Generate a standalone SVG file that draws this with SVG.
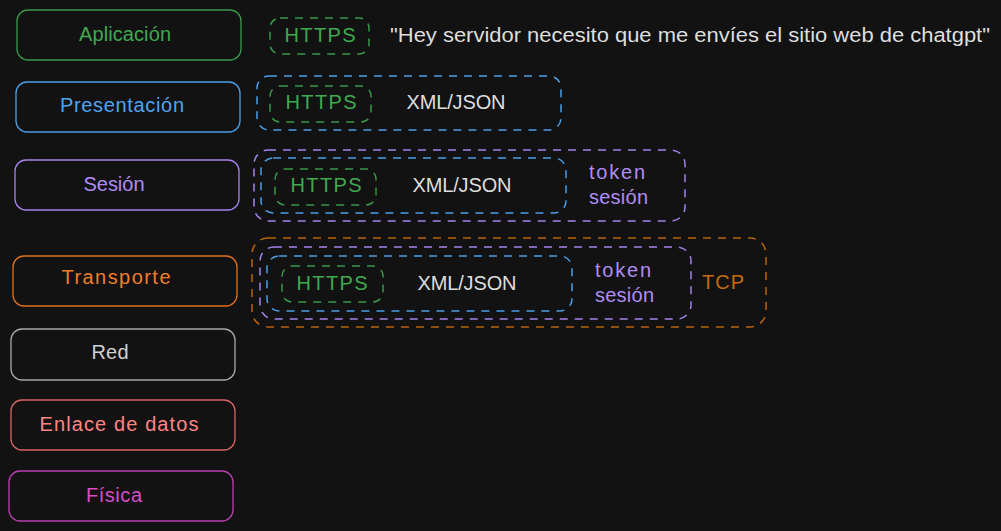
<svg xmlns="http://www.w3.org/2000/svg" width="1001" height="531" viewBox="0 0 1001 531">
<style>
text{font-family:"Liberation Sans","Noto Sans",sans-serif;font-size:20px;dominant-baseline:central}
.c{text-anchor:middle}
.box{fill:none;stroke-width:1.3}
.d{fill:none;stroke-width:1.5;stroke-dasharray:8 7}
.g{stroke:#3a9848}.gt{fill:#40a850}
.b{stroke:#4a9fe6}.bt{fill:#4ea5ef}
.p{stroke:#a582ec}.pt{fill:#b08cf5}
.o{stroke:#e0711c}.ot{fill:#f07e28}
.o2{stroke:#b8640e}.o2t{fill:#c56c10}
.w{fill:#dedede}
</style>
<rect width="1001" height="531" fill="#121212"/>
<g id="layers">
<g id="aplicacion"><rect class="box g" x="17" y="10" width="224" height="50" rx="11"/><text class="c gt" x="125" y="34" textLength="92">Aplicación</text></g>
<g id="presentacion"><rect class="box b" x="16" y="82" width="224" height="50" rx="11"/><text class="c bt" x="122" y="105" textLength="124">Presentación</text></g>
<g id="sesion"><rect class="box p" x="15" y="160" width="224" height="50" rx="11"/><text class="c pt" x="114" y="184" textLength="61">Sesión</text></g>
<g id="transporte"><rect class="box o" x="13" y="256" width="224" height="50" rx="11"/><text class="c ot" x="116" y="277" textLength="109">Transporte</text></g>
<g id="red"><rect class="box" stroke="#a8a8a8" x="11" y="329" width="224" height="51" rx="11"/><text class="c" fill="#d0d0d0" x="110" y="352" textLength="37">Red</text></g>
<g id="enlace"><rect class="box" stroke="#d86464" x="11" y="400" width="224" height="50" rx="11"/><text class="c" fill="#ff8585" x="119" y="424" textLength="159">Enlace de datos</text></g>
<g id="fisica"><rect class="box" stroke="#b83fb0" x="9" y="471" width="224" height="50" rx="11"/><text class="c" fill="#d64ccc" x="114" y="495" textLength="56">Física</text></g>
</g>
<g id="row1">
<rect class="d g" x="270" y="18" width="99" height="36" rx="10"/>
<text class="c gt" x="320" y="35" textLength="71">HTTPS</text>
<text class="w" x="390" y="35" textLength="600" lengthAdjust="spacingAndGlyphs">"Hey servidor necesito que me envíes el sitio web de chatgpt"</text>
</g>
<g id="row2">
<rect class="d b" x="257" y="76" width="304" height="54" rx="12"/>
<rect class="d g" x="270" y="86" width="101" height="36" rx="10"/>
<text class="c gt" x="321" y="102" textLength="71">HTTPS</text>
<text class="c w" x="456" y="102" textLength="99">XML/JSON</text>
</g>
<g id="row3">
<rect class="d p" x="254" y="150" width="431" height="71" rx="14"/>
<rect class="d b" x="261" y="158" width="305" height="55" rx="12"/>
<rect class="d g" x="275" y="169" width="101" height="36" rx="10"/>
<text class="c gt" x="326" y="185" textLength="71">HTTPS</text>
<text class="c w" x="462" y="185" textLength="99">XML/JSON</text>
<text class="pt" x="589" y="172" textLength="56">token</text>
<text class="pt" x="589" y="197" textLength="59">sesión</text>
</g>
<g id="row4">
<rect class="d o2" x="252" y="238" width="514" height="89" rx="16"/>
<rect class="d p" x="260" y="247" width="431" height="72" rx="14"/>
<rect class="d b" x="267" y="256" width="305" height="55" rx="12"/>
<rect class="d g" x="282" y="266" width="101" height="36" rx="10"/>
<text class="c gt" x="332" y="283" textLength="71">HTTPS</text>
<text class="c w" x="467" y="283" textLength="99">XML/JSON</text>
<text class="pt" x="595" y="270" textLength="56">token</text>
<text class="pt" x="595" y="295" textLength="59">sesión</text>
<text class="o2t" x="702" y="282" textLength="42">TCP</text>
</g>
<g id="connectors"></g>
</svg>
